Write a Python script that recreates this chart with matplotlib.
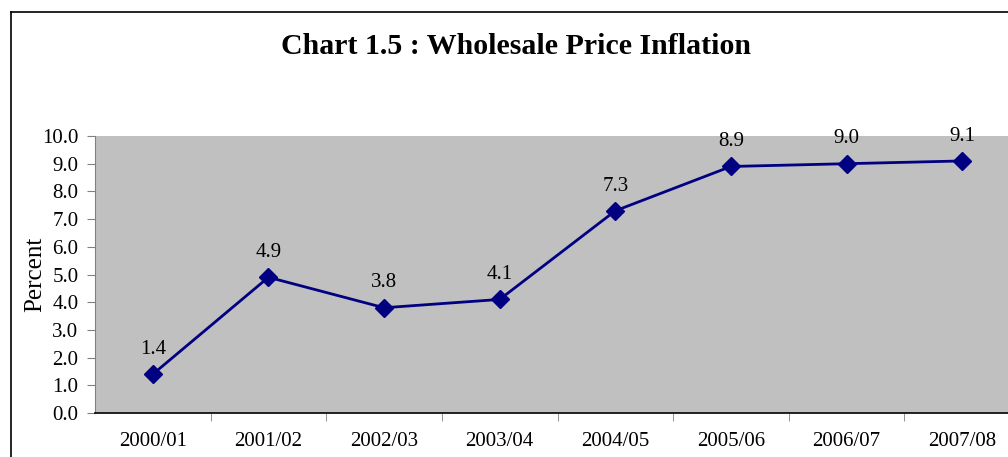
import matplotlib
matplotlib.use("Agg")
import matplotlib.pyplot as plt
from matplotlib.lines import Line2D

years = ["2000/01", "2001/02", "2002/03", "2003/04",
         "2004/05", "2005/06", "2006/07", "2007/08"]
inflation = [1.4, 4.9, 3.8, 4.1, 7.3, 8.9, 9.0, 9.1]

plt.rcParams['font.family'] = ['Liberation Serif', 'DejaVu Serif']

W, H = 1008, 457
fig = plt.figure(figsize=(W / 100, H / 100), dpi=100)

# chart border (left and top edge visible only)
fig.add_artist(Line2D([11 / W, 11 / W], [0, 1 - 12 / H], color='black', lw=1.2))
fig.add_artist(Line2D([11 / W, 1], [1 - 12 / H, 1 - 12 / H], color='black', lw=1.2))

# plot area runs past the right edge like the original
left, right, top, bottom = 95, 1020, 136, 413
ax = fig.add_axes([left / W, 1 - bottom / H, (right - left) / W, (bottom - top) / H])
ax.set_facecolor('#c0c0c0')

x = list(range(len(years)))
ax.plot(x, inflation, color='#000080', lw=2, marker='D', markersize=9,
        markerfacecolor='#000080', markeredgecolor='#000080', zorder=3)

for xi, v in zip(x, inflation):
    ax.annotate(f"{v:.1f}", (xi, v), xytext=(0, 11), textcoords='offset points',
                ha='center', va='bottom', fontsize=15, color='black')

ax.set_xlim(-0.5, len(years) - 0.5)
ax.set_ylim(0, 10)
ax.set_yticks([i for i in range(11)])
ax.set_yticklabels([f"{i:.1f}" for i in range(11)], fontsize=15)
ax.set_xticks(x)
ax.set_xticklabels(years, fontsize=15)
ax.set_xticks([i + 0.5 for i in range(len(years))], minor=True)
ax.tick_params(axis='x', which='major', length=0, pad=14)
ax.tick_params(axis='x', which='minor', length=6, color='#808080', direction='out')
ax.tick_params(axis='y', length=6, color='#808080', pad=6)

for s in ('top', 'right'):
    ax.spines[s].set_visible(False)
ax.spines['left'].set_color('#808080')
ax.spines['bottom'].set_color('black')
ax.spines['bottom'].set_linewidth(1.2)

ax.set_ylabel("Percent", fontsize=18, labelpad=-3)

fig.text(516 / W, 1 - 46 / H, "Chart 1.5 : Wholesale Price Inflation",
         ha='center', va='center', fontsize=21.5, fontweight='bold')

fig.savefig("out.png", dpi=100)
